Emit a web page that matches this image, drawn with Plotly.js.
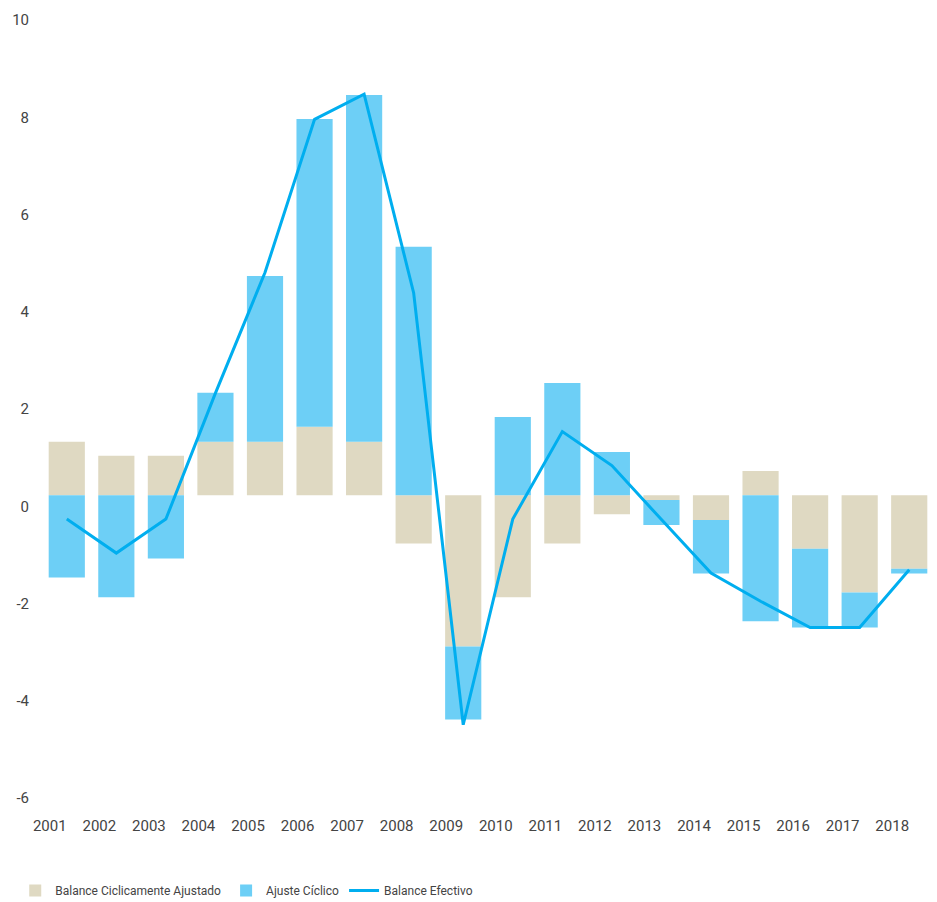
<!DOCTYPE html>
<html>
<head>
<meta charset="utf-8">
<script src="https://cdn.plot.ly/plotly-3.0.1.min.js"></script>
<style>html,body{margin:0;padding:0;background:#fff;}#chart{width:937px;height:902px;}</style>
</head>
<body>
<div id="chart"></div>
<script>
const years = ['2001','2002','2003','2004','2005','2006','2007','2008','2009','2010','2011','2012','2013','2014','2015','2016','2017','2018'];
const balanceCiclicamenteAjustado = [1.10, 0.81, 0.81, 1.10, 1.10, 1.41, 1.10, -0.99, -3.11, -2.10, -0.99, -0.39, -0.10, -0.51, 0.50, -1.10, -2.00, -1.51];
const ajusteCiclico = [-1.69, -2.10, -1.30, 1.01, 3.41, 6.33, 7.13, 5.11, -1.50, 1.61, 2.31, 0.89, -0.51, -1.10, -2.59, -1.62, -0.72, -0.10];
const balanceEfectivo = [-0.49, -1.19, -0.49, 2.10, 4.58, 7.73, 8.25, 4.16, -4.72, -0.49, 1.31, 0.61, -0.50, -1.60, -2.18, -2.72, -2.72, -1.53];
const yTicks = [-6, -4, -2, 0, 2, 4, 6, 8, 10];

const FONT = 'Roboto, "Open Sans", sans-serif';

const traces = [
  {type:'bar', name:'Balance Ciclicamente Ajustado', x:years, y:balanceCiclicamenteAjustado,
   marker:{color:'#dfd9c2'}, hoverinfo:'skip'},
  {type:'bar', name:'Ajuste Cíclico', x:years, y:ajusteCiclico,
   marker:{color:'#6dcff6'}, hoverinfo:'skip'},
  {type:'scatter', mode:'lines', name:'Balance Efectivo', x:years, y:balanceEfectivo,
   line:{color:'#00aeef', width:3}, hoverinfo:'skip'}
];

const layout = {
  width:937, height:902,
  margin:{l:42, r:3, t:9, b:115, autoexpand:false},
  paper_bgcolor:'#fff', plot_bgcolor:'#fff',
  barmode:'relative', bargap:0.27,
  font:{family:FONT, color:'#444', size:15},
  showlegend:true,
  legend:{orientation:'h', x:-0.03, xanchor:'left', y:-0.133, yanchor:'middle',
          font:{family:FONT, size:12, color:'#444'}, traceorder:'normal'},
  xaxis:{type:'category', automargin:false, showgrid:false, zeroline:false, showline:false, ticks:'',
         tickfont:{size:15, color:'#444'}, ticklabelshift:-17, ticklabelstandoff:28},
  yaxis:{range:[-6,10], automargin:false, tickvals:yTicks, ticktext:yTicks.map(String), showgrid:false, zeroline:false, showline:false, ticks:'',
         tickfont:{size:15, color:'#444'}, ticklabelshift:11, ticklabelstandoff:12}
};

Plotly.newPlot('chart', traces, layout, {displayModeBar:false, staticPlot:true});
</script>
</body>
</html>
